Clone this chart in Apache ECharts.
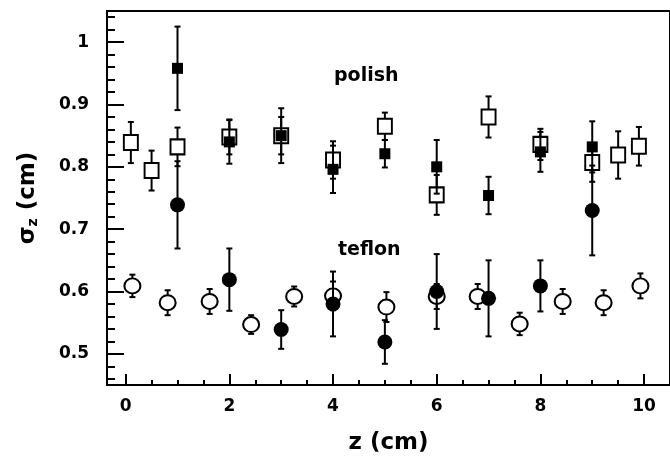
<!DOCTYPE html>
<html><head><meta charset="utf-8">
<script src="https://cdn.jsdelivr.net/npm/echarts@6/dist/echarts.min.js"></script>
<style>html,body{margin:0;padding:0;background:#fff}#c{width:670px;height:460px}</style>
</head><body><div id="c"></div>
<script>
// polish, filled squares
const polishFilledZ   = [1.0, 2.0, 3.0, 4.0, 5.0, 6.0, 7.0, 8.0, 9.0];
const polishFilledV   = [0.958, 0.840, 0.850, 0.796, 0.821, 0.800, 0.754, 0.824, 0.832];
const polishFilledErr = [0.067, 0.035, 0.044, 0.038, 0.022, 0.043, 0.030, 0.032, 0.041];
// polish, open squares
const polishOpenZ   = [0.1, 0.5, 1.0, 2.0, 3.0, 4.0, 5.0, 6.0, 7.0, 8.0, 9.0, 9.5, 9.9];
const polishOpenV   = [0.839, 0.794, 0.832, 0.848, 0.850, 0.811, 0.865, 0.755, 0.880, 0.836, 0.807, 0.819, 0.833];
const polishOpenErr = [0.033, 0.032, 0.031, 0.028, 0.030, 0.030, 0.022, 0.032, 0.033, 0.025, 0.031, 0.038, 0.031];
// teflon, filled circles
const teflonFilledZ   = [1.0, 2.0, 3.0, 4.0, 5.0, 6.0, 7.0, 8.0, 9.0];
const teflonFilledV   = [0.739, 0.619, 0.539, 0.580, 0.519, 0.600, 0.589, 0.609, 0.730];
const teflonFilledErr = [0.070, 0.050, 0.031, 0.052, 0.035, 0.060, 0.061, 0.041, 0.072];
// teflon, open circles
const teflonOpenZ   = [0.13, 0.81, 1.62, 2.42, 3.25, 4.0, 5.03, 6.0, 6.79, 7.6, 8.43, 9.22, 9.93];
const teflonOpenV   = [0.609, 0.582, 0.584, 0.547, 0.592, 0.593, 0.575, 0.592, 0.592, 0.548, 0.584, 0.582, 0.609];
const teflonOpenErr = [0.018, 0.020, 0.020, 0.015, 0.016, 0.023, 0.024, 0.020, 0.020, 0.018, 0.020, 0.020, 0.020];

// axis ticks and labels
const xMajorTicks = [0, 2, 4, 6, 8, 10];
const xMinorTicks = [0.5, 1, 1.5, 2.5, 3, 3.5, 4.5, 5, 5.5, 6.5, 7, 7.5, 8.5, 9, 9.5, 10.5];
const yMajorTicks = [0.5, 0.6, 0.7, 0.8, 0.9, 1.0];
const yTickLabels = ['0.5', '0.6', '0.7', '0.8', '0.9', '1'];
const yMinorTicks = [0.46, 0.48, 0.52, 0.54, 0.56, 0.58, 0.62, 0.64, 0.66, 0.68, 0.72, 0.74, 0.76, 0.78,
                     0.82, 0.84, 0.86, 0.88, 0.92, 0.94, 0.96, 0.98, 1.02, 1.04];

const FONT = 'DejaVu Sans';
const chart = echarts.init(document.getElementById('c'), null, {renderer: 'canvas'});

function errSeries(zs, vs, es, zlev) {
  return {
    type: 'custom', xAxisIndex: 0, yAxisIndex: 0, silent: true, z: zlev, clip: false,
    encode: {x: 0, y: 1},
    data: zs.map((z, i) => [z, vs[i], es[i]]),
    renderItem(params, api) {
      const x = api.value(0), y = api.value(1), e = api.value(2);
      const t = api.coord([x, y + e]), b = api.coord([x, y - e]);
      const cap = 3;
      const st = {stroke: '#000', lineWidth: 2};
      return {type: 'group', children: [
        {type: 'line', shape: {x1: t[0], y1: t[1], x2: b[0], y2: b[1]}, style: st},
        {type: 'line', shape: {x1: t[0] - cap, y1: t[1], x2: t[0] + cap, y2: t[1]}, style: st},
        {type: 'line', shape: {x1: b[0] - cap, y1: b[1], x2: b[0] + cap, y2: b[1]}, style: st}
      ]};
    }
  };
}
function markSeries(zs, vs, symbol, size, open, zlev) {
  return {
    type: 'scatter', xAxisIndex: 0, yAxisIndex: 0, symbol, symbolSize: size, z: zlev,
    data: zs.map((z, i) => [z, vs[i]]),
    itemStyle: open ? {color: '#fff', borderColor: '#000', borderWidth: 2, opacity: 1}
                    : {color: '#000', opacity: 1}
  };
}

const labelStyle = {fontFamily: FONT, fontWeight: 'bold', fontSize: 17, color: '#000'};

chart.setOption({
  animation: false,
  backgroundColor: '#fff',
  grid: {left: 107, top: 11, width: 569, height: 377, show: true, borderColor: '#000', borderWidth: 2},
  xAxis: [
    {type: 'value', min: -0.36, max: 10.5, position: 'bottom',
     axisLine: {onZero: false, lineStyle: {color: '#000', width: 2}},
     axisTick: {inside: true, length: 11, lineStyle: {color: '#000', width: 2}, customValues: xMajorTicks},
     axisLabel: Object.assign({customValues: xMajorTicks, margin: 13}, labelStyle),
     splitLine: {show: false},
     name: 'z (cm)', nameLocation: 'middle', nameGap: 47,
     nameTextStyle: {fontFamily: FONT, fontWeight: 'bold', fontSize: 23, color: '#000'}},
    {type: 'value', min: -0.36, max: 10.5, position: 'bottom',
     axisLine: {show: false, onZero: false},
     axisTick: {inside: true, length: 5, lineStyle: {color: '#000', width: 2}, customValues: xMinorTicks},
     axisLabel: {show: false}, splitLine: {show: false}}
  ],
  yAxis: [
    {type: 'value', min: 0.45, max: 1.05, position: 'left',
     axisLine: {show: true, onZero: false, lineStyle: {color: '#000', width: 2}},
     axisTick: {show: true, inside: true, length: 17, lineStyle: {color: '#000', width: 2}, customValues: yMajorTicks},
     axisLabel: Object.assign({customValues: yMajorTicks, margin: 18,
       formatter: v => yTickLabels[yMajorTicks.findIndex(t => Math.abs(t - v) < 1e-6)]}, labelStyle),
     splitLine: {show: false},
     name: '{a|σ}{b|z}{a| (cm)}', nameLocation: 'middle', nameGap: 67, nameRotate: 90,
     nameTextStyle: {
       rich: {
         a: {fontFamily: FONT, fontWeight: 'bold', fontSize: 23, color: '#000'},
         b: {fontFamily: FONT, fontWeight: 'bold', fontSize: 14, color: '#000', verticalAlign: 'bottom', padding: [8, 0, 0, 0]}
       }
     }},
    {type: 'value', min: 0.45, max: 1.05, position: 'left',
     axisLine: {show: false, onZero: false},
     axisTick: {show: true, inside: true, length: 8, lineStyle: {color: '#000', width: 2}, customValues: yMinorTicks},
     axisLabel: {show: false}, splitLine: {show: false}}
  ],
  graphic: [
    {type: 'text', left: 334, top: 67, style: {text: 'polish', fontFamily: FONT, fontWeight: 'bold', fontSize: 19, fill: '#000'}},
    {type: 'text', left: 338, top: 241, style: {text: 'teflon', fontFamily: FONT, fontWeight: 'bold', fontSize: 19, fill: '#000'}}
  ],
  series: [
    errSeries(polishOpenZ, polishOpenV, polishOpenErr, 2),
    markSeries(polishOpenZ, polishOpenV, 'rect', [14, 15], true, 3),
    errSeries(teflonOpenZ, teflonOpenV, teflonOpenErr, 2),
    markSeries(teflonOpenZ, teflonOpenV, 'circle', [16, 15], true, 3),
    errSeries(polishFilledZ, polishFilledV, polishFilledErr, 4),
    markSeries(polishFilledZ, polishFilledV, 'rect', 11, false, 5),
    errSeries(teflonFilledZ, teflonFilledV, teflonFilledErr, 4),
    markSeries(teflonFilledZ, teflonFilledV, 'circle', 15, false, 5)
  ]
});
</script>
</body></html>
